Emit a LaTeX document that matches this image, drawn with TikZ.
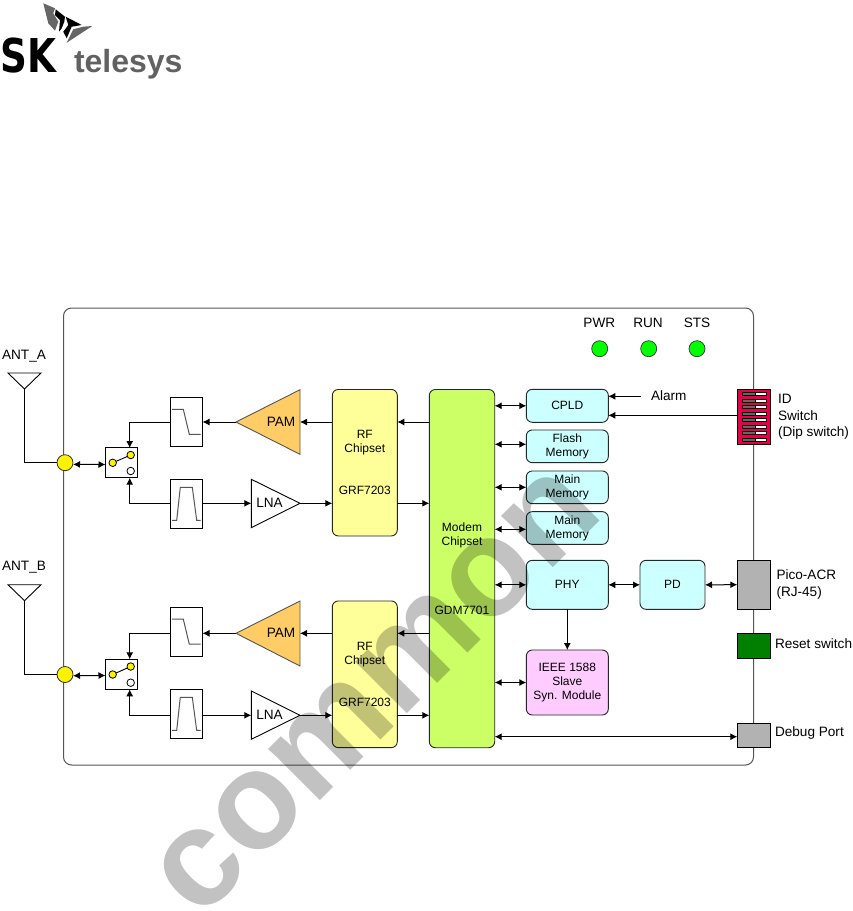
\documentclass[tikz,border=0pt]{standalone}
\usepackage{fontspec}
\setmainfont{Liberation Sans}
\newfontfamily\logofont{DejaVu Sans}
\usetikzlibrary{arrows.meta}

\definecolor{boardline}{HTML}{555555}
\definecolor{chipyellow}{HTML}{FFFF99}
\definecolor{modemgreen}{HTML}{CCFF66}
\definecolor{memcyan}{HTML}{CCFFFF}
\definecolor{syncpink}{HTML}{FFCCFF}
\definecolor{pamorange}{HTML}{FFCC66}
\definecolor{portgrey}{HTML}{B2B2B2}
\definecolor{resetgreen}{HTML}{007F00}
\definecolor{dipred}{HTML}{E6004C}
\definecolor{dipgrey}{HTML}{666666}

\tikzset{
    >={Latex[length=7pt,width=7pt]},
    every node/.style={font=\fontsize{12}{14}\selectfont, inner sep=0pt, outer sep=0pt},
    chip/.style={draw=black!85, line width=0.9pt, rounded corners=6pt, align=center},
    port/.style={draw=black, line width=1pt},
    filterbox/.style={draw=black, line width=1pt, fill=white, minimum width=32pt, minimum height=49.3pt},
    filtercurve/.style={draw=boardline, line width=1pt},
    led/.style={circle, draw=black!80, line width=0.7pt, fill=green, minimum size=16pt},
    joint/.style={circle, draw=black!80, line width=0.8pt, fill=yellow, minimum size=16pt},
    pole/.style={circle, draw=black, line width=0.8pt, minimum size=7.5pt},
    biglabel/.style={font=\fontsize{13.6}{17}\selectfont},
    wire/.style={line width=1pt},
}

\begin{document}
\begin{tikzpicture}[x=1pt, y=-1pt]
    \useasboundingbox (0, 0) rectangle (853, 911);

    % Logo
    \fill[black!60] (43.3, 3.3) -- (55, 8.3) -- (53.3, 13.3) -- (58.3, 21.7) -- (55, 30.7) -- (48.3, 23.3) -- cycle;
    \fill[black] (55.7, 9.3) -- (65, 16.7) -- (64.3, 21.7) -- (61.7, 28.3) -- (59, 31.7) -- (60, 20) -- (55, 15) -- cycle;
    \fill[black] (65.7, 16.7) -- (81.7, 25) -- (71.7, 26.7) -- (66.7, 38.3) -- (63.3, 31.7) -- (68.3, 25) -- cycle;
    \fill[black!60] (92.3, 26) -- (66.7, 42.7) -- (73.3, 29.3) -- (83.3, 26.7) -- cycle;
    \node[font=\logofont\fontsize{46.6}{47}\selectfont\bfseries, xscale=0.8, anchor=base west] (logoSK) at (0.5, 72) {SK};
    \node[font=\fontsize{32}{32}\selectfont\bfseries, text=black!62, anchor=base west] (logoName) at (74, 72) {telesys};

    % Board
    \draw[draw=boardline, line width=1pt, rounded corners=8pt] (63.5, 308) rectangle (753.5, 765);

    % LEDs
    \node[led] (ledPwr) at (599.7, 348.7) {};
    \node[led] (ledRun) at (648.7, 348.7) {};
    \node[led] (ledSts) at (697, 348.7) {};
    \node[biglabel] (pwrLabel) at (599.3, 323) {PWR};
    \node[biglabel] (runLabel) at (648, 323) {RUN};
    \node[biglabel] (stsLabel) at (697, 323) {STS};

    % Antenna A
    \draw[line width=0.9pt] (8, 373) -- (41, 373) -- (24.5, 389) -- cycle;
    \node[biglabel] (antALabel) at (24, 356) {ANT\_A};
    \coordinate (antAfoot) at (24.5, 389);
    \node[joint] (jointA) at (65, 462.7) {};
    \draw[wire] (antAfoot) |- (jointA.west);

    % Antenna B
    \draw[line width=0.9pt] (8, 584.7) -- (41, 584.7) -- (24.5, 600.7) -- cycle;
    \node[biglabel] (antBLabel) at (24, 567) {ANT\_B};
    \coordinate (antBfoot) at (24.5, 600.7);
    \node[joint] (jointB) at (65, 674.5) {};
    \draw[wire] (antBfoot) |- (jointB.west);

    % Switch A
    \node[draw=black, line width=1pt, fill=white, minimum width=32pt, minimum height=29.7pt] (swA) at (121.5, 462.8) {};
    \node[pole, fill=yellow] (swAcom) at (112.7, 462.8) {};
    \node[pole, fill=yellow] (swAtx) at (130.7, 455) {};
    \node[pole, fill=white] (swArx) at (130.7, 471) {};
    \draw[line width=0.9pt] (swAcom) -- (swAtx);
    \coordinate (swAtop) at (129.7, 448);
    \coordinate (swAbot) at (129.7, 477.7);

    % Switch B
    \node[draw=black, line width=1pt, fill=white, minimum width=32pt, minimum height=30pt] (swB) at (121.5, 674.3) {};
    \node[pole, fill=yellow] (swBcom) at (112.7, 674.5) {};
    \node[pole, fill=yellow] (swBtx) at (130.7, 666.5) {};
    \node[pole, fill=white] (swBrx) at (130.7, 682.7) {};
    \draw[line width=0.9pt] (swBcom) -- (swBtx);
    \coordinate (swBtop) at (129.7, 659.3);
    \coordinate (swBbot) at (129.7, 689.3);

    % Filters A
    \node[filterbox] (lpfA) at (186.5, 422.1) {};
    \draw[filtercurve, shift={(lpfA.center)}] (-14.5, -12.8) -- (-3.2, -12.8) -- (2.8, 12.2) -- (14.2, 12.2);
    \node[filterbox] (bpfA) at (186.5, 504) {};
    \draw[filtercurve, shift={(bpfA.center)}] (-14.5, 16.3) -- (-9.8, 16.3) -- (-6.2, -16.7) -- (5.8, -16.7) -- (10.2, 16.3) -- (14.2, 16.3);

    % Filters B
    \node[filterbox] (lpfB) at (186.5, 632) {};
    \draw[filtercurve, shift={(lpfB.center)}] (-14.5, -12.8) -- (-3.2, -12.8) -- (2.8, 12.2) -- (14.2, 12.2);
    \node[filterbox] (bpfB) at (186.5, 714) {};
    \draw[filtercurve, shift={(bpfB.center)}] (-14.5, 16.3) -- (-9.8, 16.3) -- (-6.2, -16.7) -- (5.8, -16.7) -- (10.2, 16.3) -- (14.2, 16.3);

    % Amplifiers A
    \coordinate (pamAtip) at (236, 422);
    \coordinate (pamAin) at (300, 422);
    \draw[fill=pamorange, draw=boardline, line width=0.9pt] (pamAtip) -- (300, 389.7) -- (300, 454.3) -- cycle;
    \node[biglabel] (pamALabel) at (281, 421.5) {PAM};
    \coordinate (lnaAin) at (251.3, 503.3);
    \coordinate (lnaAtip) at (300, 503.3);
    \draw[fill=white, line width=0.9pt] (lnaAin) -- (251.3, 479.3) -- (lnaAtip) -- (251.3, 527.7) -- cycle;
    \node[biglabel] (lnaALabel) at (269.5, 502.5) {LNA};

    % Amplifiers B
    \coordinate (pamBtip) at (236, 633.3);
    \coordinate (pamBin) at (300, 633.3);
    \draw[fill=pamorange, draw=boardline, line width=0.9pt] (pamBtip) -- (300, 601) -- (300, 666) -- cycle;
    \node[biglabel] (pamBLabel) at (281, 632.5) {PAM};
    \coordinate (lnaBin) at (251.3, 715.3);
    \coordinate (lnaBtip) at (300, 715.3);
    \draw[fill=white, line width=0.9pt] (lnaBin) -- (251.3, 691) -- (lnaBtip) -- (251.3, 739.3) -- cycle;
    \node[biglabel] (lnaBLabel) at (269.5, 714.5) {LNA};

    % Chipsets
    \node[chip, fill=chipyellow, minimum width=65pt, minimum height=146.5pt] (rfA) at (364.8, 462.7) {RF\\Chipset\\[27.8pt]GRF7203};
    \node[chip, fill=chipyellow, minimum width=65pt, minimum height=146.7pt] (rfB) at (364.8, 674.3) {RF\\Chipset\\[27.8pt]GRF7203};
    \node[chip, fill=modemgreen, minimum width=65.4pt, minimum height=358.2pt] (modem) at (462, 568.6) {Modem\\Chipset\\[55.3pt]GDM7701};

    % Peripherals
    \node[chip, fill=memcyan, minimum width=82pt, minimum height=33pt] (cpld) at (567.3, 405.8) {CPLD};
    \node[chip, fill=memcyan, minimum width=82pt, minimum height=32.7pt] (flash) at (567.3, 446.3) {Flash\\Memory};
    \node[chip, fill=memcyan, minimum width=82pt, minimum height=32.7pt] (mainA) at (567.3, 487.3) {Main\\Memory};
    \node[chip, fill=memcyan, minimum width=82pt, minimum height=32.7pt] (mainB) at (567.3, 528) {Main\\Memory};
    \node[chip, fill=memcyan, minimum width=82pt, minimum height=49pt] (phy) at (567.3, 584.8) {PHY};
    \node[chip, fill=memcyan, minimum width=65pt, minimum height=49pt] (pd) at (672.5, 584.8) {PD};
    \node[chip, fill=syncpink, minimum width=82pt, minimum height=65pt] (sync) at (567.3, 682.5) {IEEE 1588\\Slave\\Syn. Module};

    % Dip switch
    \node[port, fill=dipred, minimum width=33.4pt, minimum height=55.7pt] (dip) at (754, 416.85) {};
    \foreach \row in {394, 400.5, 407, 413.5, 420, 426.5, 433, 439.5} {
        \draw[draw=black, line width=0.5pt, fill=dipgrey] (742.3, \row - 1.7) rectangle (755.7, \row + 1.7);
        \draw[draw=black, line width=0.5pt, fill=white] (755.7, \row - 1.7) rectangle (766.7, \row + 1.7);
    }
    \node[biglabel, anchor=west] (idLabel) at (778, 398.7) {ID};
    \node[biglabel, anchor=west] (switchLabel) at (778, 416) {Switch};
    \node[biglabel, anchor=west] (dipLabel) at (778, 432.5) {(Dip switch)};

    % Ports
    \node[port, fill=portgrey, minimum width=33.4pt, minimum height=49.3pt] (pico) at (754, 584.7) {};
    \node[port, fill=resetgreen, minimum width=33.4pt, minimum height=25pt] (reset) at (754, 645.8) {};
    \node[port, fill=portgrey, minimum width=33.4pt, minimum height=24pt] (debug) at (754, 735.3) {};
    \node[biglabel, anchor=west] (picoLabel) at (776.5, 575) {Pico-ACR};
    \node[biglabel, anchor=west] (rjLabel) at (776.5, 593) {(RJ-45)};
    \node[biglabel, anchor=west] (resetLabel) at (775, 644) {Reset switch};
    \node[biglabel, anchor=west] (debugLabel) at (775, 733) {Debug Port};

    % Alarm
    \node[biglabel, anchor=west] (alarm) at (651, 395.5) {Alarm};
    \coordinate (alarmEnd) at (640.7, 396.3);
    \draw[->, wire] (alarmEnd) -- (cpld.east |- alarmEnd);
    \draw[->, wire] ([yshift=1.5pt]dip.west) -- ([yshift=1.5pt]cpld.east |- dip.west);

    % Front end A
    \draw[<->, wire] ([yshift=-1.7pt]jointA.east) -- ([yshift=-1.7pt]swA.west);
    \draw[->, wire] (lpfA.west) -| (swAtop);
    \draw[->, wire] (bpfA.west |- lnaAin) -| (swAbot);
    \draw[->, wire] (pamAtip) -- (lpfA.east |- pamAtip);
    \draw[->, wire] (bpfA.east |- lnaAin) -- (lnaAin);
    \draw[->, wire] (rfA.west |- pamAin) -- (pamAin);
    \draw[->, wire] (lnaAtip) -- (rfA.west |- lnaAtip);
    \draw[->, wire] (modem.west |- pamAin) -- (rfA.east |- pamAin);
    \draw[->, wire] (rfA.east |- lnaAtip) -- (modem.west |- lnaAtip);

    % Front end B
    \draw[<->, wire] ([yshift=-1.2pt]jointB.east) -- ([yshift=-1.2pt]swB.west);
    \draw[->, wire] (lpfB.west |- pamBtip) -| (swBtop);
    \draw[->, wire] (bpfB.west |- lnaBin) -| (swBbot);
    \draw[->, wire] (pamBtip) -- (lpfB.east |- pamBtip);
    \draw[->, wire] (bpfB.east |- lnaBin) -- (lnaBin);
    \draw[->, wire] (rfB.west |- pamBin) -- (pamBin);
    \draw[->, wire] (lnaBtip) -- (rfB.west |- lnaBtip);
    \draw[->, wire] (modem.west |- pamBin) -- (rfB.east |- pamBin);
    \draw[->, wire] (rfB.east |- lnaBtip) -- (modem.west |- lnaBtip);

    % Modem links
    \draw[<->, wire] (modem.east |- cpld.west) -- (cpld.west);
    \draw[<->, wire] ([yshift=2pt]modem.east |- flash.west) -- ([yshift=2pt]flash.west);
    \draw[<->, wire] (modem.east |- mainA.west) -- (mainA.west);
    \draw[<->, wire] ([yshift=-1.3pt]modem.east |- mainB.west) -- ([yshift=-1.3pt]mainB.west);
    \draw[<->, wire] (modem.east |- phy.west) -- (phy.west);
    \draw[<->, wire] (modem.east |- sync.west) -- (sync.west);
    \draw[<->, wire] ([yshift=-1.4pt]modem.east |- debug.west) -- ([yshift=-1.4pt]debug.west);

    % PHY links
    \draw[<->, wire] (phy.east) -- (pd.west);
    \draw[<->, wire] (pd.east) -- (pico.west);
    \draw[->, wire] (phy.south) -- (sync.north);

    % Watermark
    \node[font=\fontsize{138}{138}\selectfont\bfseries, text=black, text opacity=0.24, rotate=45] (stamp) at (377, 692) {common};
\end{tikzpicture}
\end{document}
